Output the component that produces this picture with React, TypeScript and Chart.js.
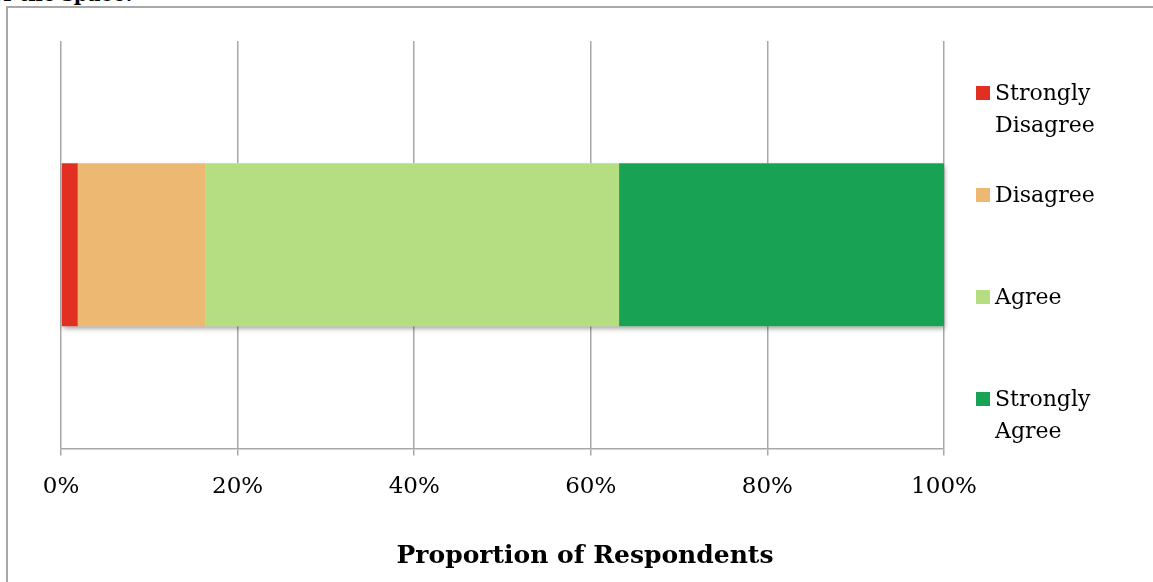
import React, { useEffect, useRef } from "react";
import { Chart, registerables } from "chart.js";

Chart.register(...registerables);

// Survey data: share of respondents (%) per answer, one stacked bar
const categories = ["All respondents"];
const seriesLabels = ["Strongly Disagree", "Disagree", "Agree", "Strongly Agree"];
const stronglyDisagree = [1.9];
const disagree = [14.5];
const agree = [46.8];
const stronglyAgree = [36.8];
const seriesColors = ["#E12F21", "#EDB872", "#B5DD81", "#17A353"];
const tickLabels = ["0%", "20%", "40%", "60%", "80%", "100%"];
const axisTitle = "Proportion of Respondents";
const headerText = "of the space.";

const FONT = "'DejaVu Serif', Georgia, serif";
const GRID = "#a8a8a8";

// paints one soft shadow under the whole stacked bar before the segments are drawn
const barShadow = {
  id: "barShadow",
  beforeDatasetsDraw(chart: any) {
    const { ctx } = chart;
    let left = Infinity, right = -Infinity, top = Infinity, bottom = -Infinity;
    chart.data.datasets.forEach((_d: any, i: number) => {
      const meta = chart.getDatasetMeta(i);
      meta.data.forEach((el: any) => {
        left = Math.min(left, el.base, el.x);
        right = Math.max(right, el.base, el.x);
        top = Math.min(top, el.y - el.height / 2);
        bottom = Math.max(bottom, el.y + el.height / 2);
      });
    });
    if (!isFinite(left)) return;
    ctx.save();
    ctx.shadowColor = "rgba(0,0,0,0.38)";
    ctx.shadowBlur = 5;
    ctx.shadowOffsetX = 1;
    ctx.shadowOffsetY = 3;
    ctx.fillStyle = "#ffffff";
    ctx.fillRect(left, top, right - left, bottom - top);
    ctx.restore();
  },
};

export default function App() {
  const canvasRef = useRef<HTMLCanvasElement | null>(null);

  useEffect(() => {
    if (!canvasRef.current) return;
    const values = [stronglyDisagree, disagree, agree, stronglyAgree];
    const chart = new Chart(canvasRef.current, {
      type: "bar",
      data: {
        labels: categories,
        datasets: seriesLabels.map((label, i) => ({
          label,
          data: values[i],
          backgroundColor: seriesColors[i],
          borderWidth: 0,
          barPercentage: 0.4,
          categoryPercentage: 1,
        })),
      },
      options: {
        indexAxis: "y",
        animation: false,
        responsive: false,
        maintainAspectRatio: false,
        layout: { padding: { left: 53, top: 33, right: 218, bottom: 63 } },
        scales: {
          x: {
            stacked: true,
            min: 0,
            max: 100,
            ticks: {
              stepSize: 20,
              color: "#000",
              padding: 18,
              font: { family: FONT, size: 23 },
              callback: (_v: any, i: number) => tickLabels[i],
            },
            grid: { color: GRID, lineWidth: 1.5, tickLength: 7, tickColor: GRID },
            border: { color: GRID, width: 1.5 },
          },
          y: { stacked: true, display: false },
        },
        plugins: {
          legend: { display: false },
          tooltip: { enabled: false },
          title: { display: false },
        },
      },
      plugins: [barShadow],
    });
    return () => chart.destroy();
  }, []);

  return (
    <div style={{ position: "fixed", left: 0, top: 0, width: 1153, height: 582, overflow: "hidden", background: "#fff" }}>
      <div
        style={{
          position: "absolute",
          left: -10,
          top: -16,
          font: `bold 20px/20px ${FONT}`,
          color: "#000",
          whiteSpace: "nowrap",
        }}
      >
        {headerText}
      </div>
      <div
        style={{
          position: "absolute",
          left: 6,
          top: 6,
          width: 1200,
          height: 640,
          border: `2px solid ${GRID}`,
        }}
      />
      <canvas
        ref={canvasRef}
        width={1154}
        height={574}
        style={{ position: "absolute", left: 8, top: 8, width: 1154, height: 574 }}
      />
      <div
        style={{
          position: "absolute",
          left: 0,
          top: 540,
          width: 1170,
          textAlign: "center",
          font: `bold 25px/30px ${FONT}`,
          color: "#000",
          whiteSpace: "nowrap",
        }}
      >
        {axisTitle}
      </div>
      <div style={{ position: "absolute", left: 976, top: 77 }}>
        {seriesLabels.map((label, i) => (
          <div key={label} style={{ position: "absolute", top: i * 102, left: 0, width: 160, display: "flex" }}>
            <span
              style={{
                display: "inline-block",
                width: 14,
                height: 14,
                background: seriesColors[i],
                marginTop: 9,
                flex: "none",
              }}
            />
            <span
              style={{
                marginLeft: 5,
                width: 112,
                font: `22px/32px ${FONT}`,
                color: "#000",
              }}
            >
              {label}
            </span>
          </div>
        ))}
      </div>
    </div>
  );
}
